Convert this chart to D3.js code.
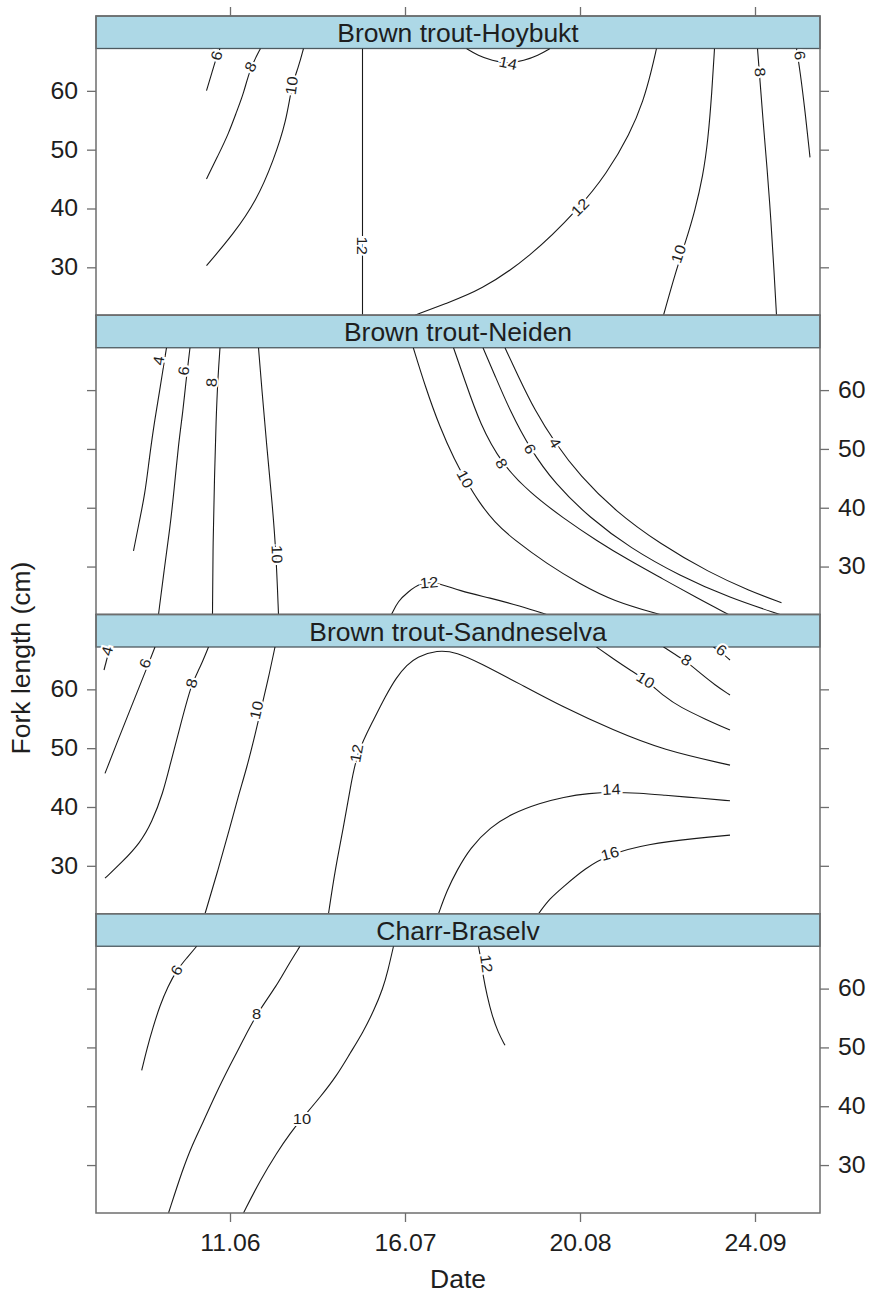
<!DOCTYPE html>
<html><head><meta charset="utf-8">
<script src="https://cdn.jsdelivr.net/npm/d3@7/dist/d3.min.js"></script>
<style>body{margin:0;background:#fff}svg{display:block}</style>
</head><body>
<svg id="c" width="870" height="1296"></svg>
<script>
// ---------- data (x = day of year, y = fork length in cm) ----------
const panelNames = ["Brown trout-Hoybukt", "Brown trout-Neiden", "Brown trout-Sandneselva", "Charr-Braselv"];
const xTicks = [162, 197, 232, 267];          // 11.06, 16.07, 20.08, 24.09
const yTicks = [30, 40, 50, 60];
const xDomain = [135.2, 280];
const yDomain = [21.85, 67.2];
const xLabel = "Date";
const yLabel = "Fork length (cm)";

const hoybukt = [
 {level:6,  pts:[[157.3,60.05],[158.4,63.12],[159.4,66.01],[160,67.2]], lab:[159.3,66.0]},
 {level:8,  pts:[[157.3,45.03],[159.6,48.99],[161.7,52.69],[163.4,56.65],[164.7,59.49],[166,63.8],[168.1,67.2]], lab:[166.1,64.1]},
 {level:10, pts:[[157.3,30.28],[162.7,35.67],[167.3,41.34],[170.7,48.14],[173.3,54.95],[174.3,60.9],[175.7,64.02],[176.7,67.2]], lab:[174.3,60.9]},
 {level:12, pts:[[188.5,67.2],[188.5,21.85]], lab:[188.5,33.68]},
 {level:12, pts:[[199,21.85],[205,23.81],[212,26.02],[222,31.69],[232,40.2],[237.3,45.88],[242,52.69],[244.7,58.35],[246.3,63.46],[247.3,67.2]], lab:[232,40.2]},
 {level:14, pts:[[209.3,67.2],[211.6,66.01],[214.4,65.16],[217.6,64.6],[220.8,65.16],[223.6,66.01],[226,67.2]], lab:[217.6,64.73]},
 {level:10, pts:[[258.9,67.2],[258.4,60.05],[257.6,51.55],[256.6,45.59],[255,39.63],[253.2,34.53],[251.2,29.42],[248.7,21.85]], lab:[251.7,32.27]},
 {level:8,  pts:[[267.5,67.2],[268,61.75],[268.6,54.95],[269.4,47.12],[270.2,37.93],[270.8,29.42],[271.3,21.85]], lab:[268.0,63.17]},
 {level:6,  pts:[[275.3,67.2],[276,63.46],[277,56.65],[278,48.7]], lab:[276,66.0]}
];
const neiden = [
 {level:4,  pts:[[149.3,67.2],[148.4,62.44],[147.6,58.18],[146.7,53.59],[145.8,47.97],[145,42.36],[143.8,37.42],[142.7,32.66]], lab:[147.7,64.99]},
 {level:6,  pts:[[154,67.2],[153.2,61.58],[152.6,56.48],[151.7,50.86],[150.8,42.87],[150,36.57],[148.8,29.25],[147.7,21.85]], lab:[152.7,63.29]},
 {level:8,  pts:[[160,67.2],[159.6,62.44],[159.2,54.78],[158.9,45.08],[158.6,34.36],[158.5,21.85]], lab:[158.3,61.3]},
 {level:10, pts:[[167.7,67.2],[168.4,59.88],[169.3,50.86],[170.4,41.17],[171.2,32.66],[171.7,21.85]], lab:[171.4,32.1]},
 {level:12, pts:[[194.3,21.85],[195.6,24.15],[197.6,25.68],[200,27.2],[203,27.4],[208,25.85],[214,24.66],[220,23.3],[225.3,21.85]], lab:[201.8,27.29]},
 {level:10, pts:[[198.66,67.2],[201,60.73],[204,53.59],[207,47.97],[209,44.91],[211.6,41.17],[215,37.42],[218.6,34.7],[225.4,30.44],[232,27.04],[238.6,24.15],[248,21.85]], lab:[209,44.91]},
 {level:8,  pts:[[206.7,67.2],[209,61.58],[212,54.22],[216.3,47.51],[222,42.53],[228.6,38.27],[235.4,34.36],[242,30.96],[248.6,27.89],[255.4,24.66],[261.7,21.85]], lab:[216.3,47.51]},
 {level:6,  pts:[[212.6,67.2],[215,62.44],[218,56.48],[222,50.01],[227,44.06],[234,38.27],[242,33.17],[252,28.4],[262,24.66],[272,21.85]], lab:[222,50.01]},
 {level:4,  pts:[[217,67.2],[219.6,62.44],[223,56.48],[227,51.03],[232,45.42],[239,39.46],[248,33.85],[258,28.91],[266,25.85],[272.3,23.86]], lab:[227,51.03]}
];
const sandneselva = [
 {level:4,  pts:[[138,67.2],[136.8,63.29]], lab:[137.4,66.52]},
 {level:6,  pts:[[147,67.2],[145.6,64.14],[144,60.73],[142,56.48],[139.6,51.37],[137,45.71]], lab:[145,64.43]},
 {level:8,  pts:[[157.7,67.2],[156,63.63],[154.3,61.07],[152,53.59],[150,47.12],[148.6,42.36],[146.4,37.42],[144,33.85],[140.4,30.61],[137,27.89]], lab:[154.3,61.02]},
 {level:10, pts:[[171,67.2],[169.6,61.58],[168.4,57.33],[167,52.23],[165.4,46.78],[163.6,41.68],[162,36.57],[159.6,29.25],[157,21.85]], lab:[167.3,56.48]},
 {level:12, pts:[[181.7,21.85],[183,29.25],[184.7,36.57],[186,42.87],[187.3,49.16],[190.7,54.78],[193,58.69],[195.3,62.1],[197.4,64.14],[199.3,65.5],[203.4,66.7],[207.4,66.3],[212,64.48],[220,60.9],[228.6,56.99],[238.6,53.08],[248.6,49.67],[262,47.12]], lab:[187.3,49.11]},
 {level:14, pts:[[203.7,21.85],[205.4,25.85],[207.4,29.25],[210,33.0],[214,36.57],[218.6,38.95],[224,40.65],[228.6,41.68],[234,42.36],[238.4,42.53],[244,42.36],[248.6,42.02],[256,41.51],[262,41.05]], lab:[238.3,43.0]},
 {level:16, pts:[[223.7,21.85],[226,24.49],[228.6,26.36],[233,29.59],[238,31.98],[245.4,33.68],[255.4,34.7],[262,35.21]], lab:[238,32.1]},
 {level:10, pts:[[235.3,67.2],[239,64.99],[242,63.29],[245.2,61.58],[249,58.69],[252,56.99],[257,54.95],[262,53.08]], lab:[245.1,61.58]},
 {level:8,  pts:[[248.7,67.2],[251.2,65.84],[253.4,64.65],[256,62.78],[259,60.73],[262,59.03]], lab:[253.3,64.99]},
 {level:6,  pts:[[258.7,67.2],[260.4,66.18],[262,64.99]], lab:[260.3,66.69]}
];
const braselv = [
 {level:6,  pts:[[155.34,67.2],[153.3,65.16],[151.34,63.12],[149.6,60.39],[148,57.16],[146.6,53.42],[145.4,49.84],[144.34,46.1]], lab:[151.3,63.12]},
 {level:8,  pts:[[176,67.2],[173.6,63.97],[171.4,60.56],[167.4,55.8],[164.6,51.2],[162,46.95],[159.2,42.19],[156.6,37.25],[154.4,33.34],[152.6,29.42],[149.7,21.85]], lab:[167.3,55.75]},
 {level:10, pts:[[194.7,67.2],[193.6,63.12],[192.6,60.05],[190.8,56.31],[188.6,52.57],[186,48.99],[183.4,45.25],[180,41.5],[176.4,37.93],[174,35.38],[171.4,32.15],[168,27.38],[164.7,21.85]], lab:[176.4,37.93]},
 {level:12, pts:[[211.7,67.2],[212.2,64.82],[212.6,62.27],[213.4,58.86],[214.4,55.46],[215.6,52.57],[217,50.35]], lab:[213.3,64.26]}
];
const panelLines = [hoybukt, neiden, sandneselva, braselv];
const flatLabels = ["Charr-Braselv:8", "Charr-Braselv:10"];

// ---------- layout ----------
const L = 96, R = 820, top0 = 16, blockH = 299.25, stripH = 32.5, plotH = blockH - stripH;
const FONT = "'Liberation Sans', Arial, Helvetica, sans-serif";
const frameCol = "#6e6e6e", textCol = "#1e1e1e";
const svg = d3.select("#c").style("font-family", FONT);
const x = d3.scaleLinear().domain(xDomain).range([L, R]);
const fmt = d3.timeFormat("%d.%m");
const dayFmt = d => fmt(new Date(2009, 0, d));

function stretchTexts(g, sx) {
  g.selectAll("text").each(function () {
    const t = d3.select(this);
    const xx = +t.attr("x") || 0;
    t.attr("x", null).attr("transform", `translate(${xx},0) scale(${sx},1)`);
  });
}
function styleAxis(g) {
  g.select(".domain").remove();
  g.selectAll(".tick line").attr("stroke", frameCol).attr("stroke-width", 1.3);
  g.selectAll("text").attr("fill", textCol).style("font-size", "23px").style("font-family", FONT);
}

panelNames.forEach((name, i) => {
  const pTop = top0 + i * blockH;
  const plotTop = pTop + stripH;
  const y = d3.scaleLinear().domain(yDomain).range([plotTop + plotH, plotTop]);
  const g = svg.append("g");

  svg.append("clipPath").attr("id", "clip" + i).append("rect")
    .attr("x", L).attr("y", plotTop).attr("width", R - L).attr("height", plotH);

  // strip
  g.append("rect").attr("x", L).attr("y", pTop).attr("width", R - L).attr("height", stripH)
    .attr("fill", "#add8e6").attr("stroke", "#4d5a60").attr("stroke-width", 1.3);
  g.append("text").attr("text-anchor", "middle").attr("fill", textCol)
    .attr("transform", `translate(${(L + R) / 2},${pTop + 26}) scale(1.06,1)`)
    .style("font-size", "25px").text(name);

  // contour lines
  const line = d3.line().x(d => x(d[0])).y(d => y(d[1])).curve(d3.curveBasis);
  const lg = g.append("g").attr("clip-path", `url(#clip${i})`);
  panelLines[i].forEach(c => {
    lg.append("path").attr("d", line(c.pts)).attr("fill", "none")
      .attr("stroke", "#1a1a1a").attr("stroke-width", 1.1);
  });

  // contour labels
  panelLines[i].forEach(c => {
    const px = x(c.lab[0]), py = y(c.lab[1]);
    let best = Infinity, ang = 0;
    for (let k = 0; k < c.pts.length - 1; k++) {
      const ax = x(c.pts[k][0]), ay = y(c.pts[k][1]), bx = x(c.pts[k + 1][0]), by = y(c.pts[k + 1][1]);
      const dx = bx - ax, dy = by - ay, len2 = dx * dx + dy * dy || 1;
      let t = ((px - ax) * dx + (py - ay) * dy) / len2; t = Math.max(0, Math.min(1, t));
      const qx = ax + t * dx - px, qy = ay + t * dy - py, d2 = qx * qx + qy * qy;
      if (d2 < best) { best = d2; ang = Math.atan2(dy, dx) * 180 / Math.PI; }
    }
    if (ang > 90) ang -= 180;
    if (ang <= -90) ang += 180;
    if (flatLabels.includes(name + ":" + c.level)) ang = 0;
    g.append("text").attr("text-anchor", "middle").attr("dominant-baseline", "central")
      .attr("transform", `translate(${px},${py}) rotate(${ang}) scale(1.1,1)`)
      .attr("fill", textCol).attr("stroke", "#fff").attr("stroke-width", 4)
      .attr("paint-order", "stroke").style("font-size", "15px").text(c.level);
  });

  // frame
  g.append("rect").attr("x", L).attr("y", pTop).attr("width", R - L).attr("height", blockH)
    .attr("fill", "none").attr("stroke", frameCol).attr("stroke-width", 1.5);

  // y axes: labels alternate left / right
  const leftLab = i % 2 === 0;
  const axL = g.append("g").attr("transform", `translate(${L},0)`)
    .call(d3.axisLeft(y).tickValues(yTicks).tickSize(9).tickPadding(9).tickFormat(leftLab ? d3.format("d") : () => ""));
  styleAxis(axL); stretchTexts(axL, 1.08);
  const axR = g.append("g").attr("transform", `translate(${R},0)`)
    .call(d3.axisRight(y).tickValues(yTicks).tickSize(9).tickPadding(9).tickFormat(!leftLab ? d3.format("d") : () => ""));
  styleAxis(axR); stretchTexts(axR, 1.08);

  if (i === 0) {
    const axT = g.append("g").attr("transform", `translate(0,${pTop})`)
      .call(d3.axisTop(x).tickValues(xTicks).tickSize(9).tickFormat(() => ""));
    styleAxis(axT);
  }
  if (i === panelNames.length - 1) {
    const axB = g.append("g").attr("transform", `translate(0,${pTop + blockH})`)
      .call(d3.axisBottom(x).tickValues(xTicks).tickSize(9).tickPadding(13).tickFormat(dayFmt));
    styleAxis(axB); stretchTexts(axB, 1.08);
  }
});

// axis titles
svg.append("text").attr("text-anchor", "middle").attr("fill", textCol)
  .attr("transform", `translate(${(L + R) / 2},1288) scale(1.06,1)`)
  .style("font-size", "25px").text(xLabel);
svg.append("text").attr("text-anchor", "middle").attr("fill", textCol)
  .attr("transform", `translate(30,658) rotate(-90) scale(1.06,1)`)
  .style("font-size", "25px").text(yLabel);
</script>
</body></html>
